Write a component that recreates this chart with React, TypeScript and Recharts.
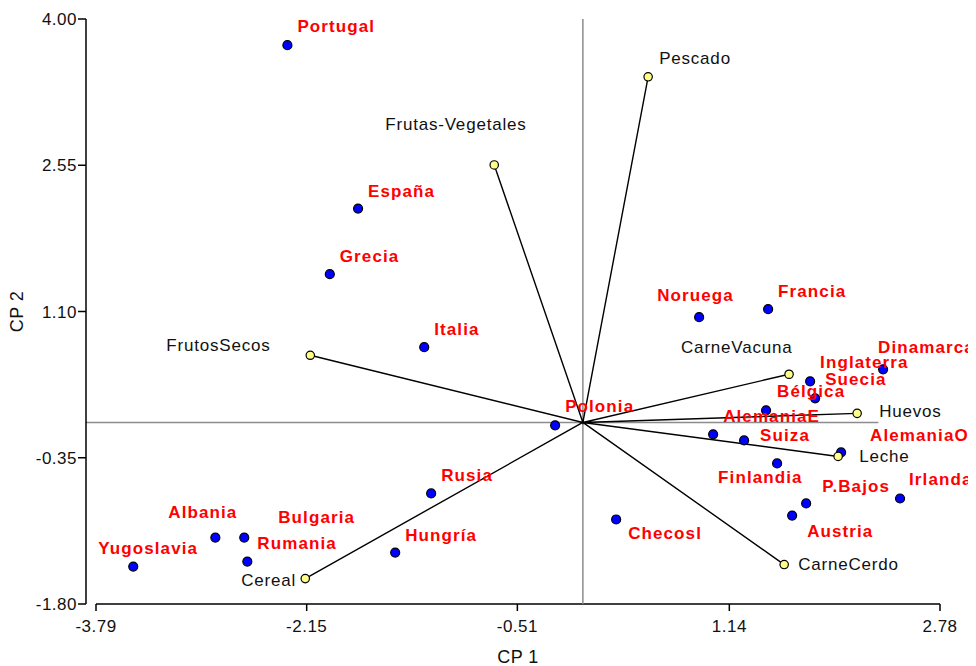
import {
  ScatterChart,
  Scatter,
  XAxis,
  YAxis,
  ReferenceLine
} from 'recharts';

// PCA biplot: countries (scores) and food groups (loadings)
const countries = [
  'Portugal', 'España', 'Grecia', 'Italia', 'Polonia', 'Noruega', 'Francia',
  'Dinamarca', 'Inglaterra', 'Suecia', 'Bélgica', 'AlemaniaE', 'Suiza',
  'AlemaniaO', 'Finlandia', 'Irlanda', 'P.Bajos', 'Austria', 'Checosl',
  'Rusia', 'Hungría', 'Bulgaria', 'Albania', 'Rumania', 'Yugoslavia'
];
const countryCP1 = [
  -2.30, -1.75, -1.97, -1.235, -0.216, 0.905, 1.442,
  2.337, 1.769, 1.808, 1.426, 1.014, 1.255,
  2.010, 1.512, 2.469, 1.738, 1.629, 0.259,
  -1.181, -1.461, -2.636, -2.861, -2.612, -3.500
];
const countryCP2 = [
  3.74, 2.12, 1.47, 0.746, -0.029, 1.044, 1.123,
  0.527, 0.408, 0.239, 0.120, -0.118, -0.178,
  -0.297, -0.406, -0.754, -0.803, -0.923, -0.962,
  -0.704, -1.290, -1.141, -1.141, -1.379, -1.429
];

const variables = [
  'Pescado', 'Frutas-Vegetales', 'FrutosSecos', 'CarneVacuna',
  'Huevos', 'Leche', 'CarneCerdo', 'Cereal'
];
const variableCP1 = [0.508, -0.690, -2.122, 1.605, 2.135, 1.987, 1.567, -2.161];
const variableCP2 = [3.427, 2.553, 0.666, 0.478, 0.090, -0.337, -1.409, -1.548];

const xTicks = [-3.79, -2.15, -0.51, 1.14, 2.78];
const yTicks = [-1.80, -0.35, 1.10, 2.55, 4.00];

// extent of the horizontal zero line
const hLineFrom = -3.87;
const hLineTo = 2.3;

// label placement (text start, baseline) relative to the dot, in px
const labelOffsets: Record<string, [number, number]> = {
  Portugal: [10, -13],
  Noruega: [-42, -16],
  Dinamarca: [-5, -16],
  Inglaterra: [10, -13],
  Suecia: [10, -13],
  'Bélgica': [11, -13],
  Suiza: [16, 1],
  AlemaniaO: [29, -11],
  Finlandia: [-59, 20],
  Irlanda: [9, -13],
  'P.Bajos': [16, -11],
  Austria: [15, 21],
  Checosl: [12, 20],
  Bulgaria: [34, -15],
  Albania: [-47, -20],
  Rumania: [10, -13],
  Yugoslavia: [-35, -13],
  Polonia: [10, -13],
  Pescado: [11, -13],
  'Frutas-Vegetales': [-109, -35],
  FrutosSecos: [-144, -4],
  CarneVacuna: [-108, -21],
  Huevos: [22, 4],
  Leche: [21, 6],
  CarneCerdo: [14, 5],
  Cereal: [-64, 7]
};
const defaultOffset: [number, number] = [10, -12];

const FONT = '"Liberation Sans", Arial, sans-serif';

const countryData = countries.map((name, i) => ({ name, x: countryCP1[i], y: countryCP2[i] }));
const variableData = variables.map((name, i) => ({ name, x: variableCP1[i], y: variableCP2[i] }));
// origin -> loading -> origin -> next loading ... drawn as one joined line
const vectorData = variables.flatMap((_, i) => [
  { x: 0, y: 0 },
  { x: variableCP1[i], y: variableCP2[i] }
]).concat([{ x: 0, y: 0 }]);

const CountryDot = (props: any) => {
  const { cx, cy, payload } = props;
  const [dx, dy] = labelOffsets[payload.name] ?? defaultOffset;
  return (
    <g>
      <circle cx={cx} cy={cy} r={4.5} fill="#0000FF" stroke="#000" strokeWidth={1.2} />
      <text
        x={cx + dx}
        y={cy + dy}
        fill="#FF0000"
        fontSize={17}
        fontWeight="bold"
        fontFamily={FONT}
        letterSpacing={1.1}
      >
        {payload.name}
      </text>
    </g>
  );
};

const VariableDot = (props: any) => {
  const { cx, cy, payload } = props;
  const [dx, dy] = labelOffsets[payload.name] ?? defaultOffset;
  return (
    <g>
      <circle cx={cx} cy={cy} r={4.2} fill="#FFFF88" stroke="#000" strokeWidth={1.2} />
      <text
        x={cx + dx}
        y={cy + dy}
        fill="#111"
        fontSize={17}
        fontFamily={FONT}
        letterSpacing={0.8}
      >
        {payload.name}
      </text>
    </g>
  );
};

const NoDot = () => <g />;

const tickStyle = { fontSize: 17, fill: '#111', fontFamily: FONT, letterSpacing: 0.5 };

export default function App() {
  return (
    <div style={{ width: 968, height: 658, fontFamily: FONT }}>
      <ScatterChart
        width={968}
        height={658}
        margin={{ top: 11, right: 36, bottom: 3, left: 5 }}
      >
        <XAxis
          type="number"
          dataKey="x"
          domain={[xTicks[0], xTicks[xTicks.length - 1]]}
          ticks={xTicks}
          interval={0}
          padding={{ left: 10 }}
          height={59}
          axisLine={false}
          tickLine={{ stroke: '#000', strokeWidth: 1.5 }}
          tickSize={7}
          tickMargin={9}
          tick={tickStyle}
          tickFormatter={(v: number) => v.toFixed(2)}
          label={{
            value: 'CP 1',
            position: 'insideBottom',
            offset: 0,
            dx: 5,
            style: { fontSize: 18, fill: '#111', fontFamily: FONT, letterSpacing: 0.5 }
          }}
        />
        <YAxis
          type="number"
          dataKey="y"
          domain={[yTicks[0], yTicks[yTicks.length - 1]]}
          ticks={yTicks}
          interval={0}
          width={73}
          axisLine={{ stroke: '#000', strokeWidth: 1.5 }}
          tickLine={{ stroke: '#000', strokeWidth: 1.5 }}
          tickSize={8}
          tickMargin={1}
          tick={tickStyle}
          tickFormatter={(v: number) => v.toFixed(2)}
          label={{
            value: 'CP 2',
            angle: -90,
            position: 'insideLeft',
            offset: 4,
            style: { fontSize: 18, fill: '#111', fontFamily: FONT, letterSpacing: 0.5, textAnchor: 'middle' }
          }}
        />
        <ReferenceLine
          segment={[
            { x: xTicks[0], y: yTicks[0] },
            { x: xTicks[xTicks.length - 1], y: yTicks[0] }
          ]}
          stroke="#000"
          strokeWidth={1.5}
          ifOverflow="visible"
        />
        <ReferenceLine x={0} stroke="#8c8c8c" strokeWidth={1.5} />
        <ReferenceLine
          segment={[{ x: hLineFrom, y: 0 }, { x: hLineTo, y: 0 }]}
          stroke="#8c8c8c"
          strokeWidth={1.5}
          ifOverflow="visible"
        />
        <Scatter
          data={vectorData}
          line={{ stroke: '#000', strokeWidth: 1.4 }}
          lineJointType="linear"
          shape={NoDot}
          isAnimationActive={false}
        />
        <Scatter data={countryData} shape={CountryDot} isAnimationActive={false} />
        <Scatter data={variableData} shape={VariableDot} isAnimationActive={false} />
      </ScatterChart>
    </div>
  );
}
